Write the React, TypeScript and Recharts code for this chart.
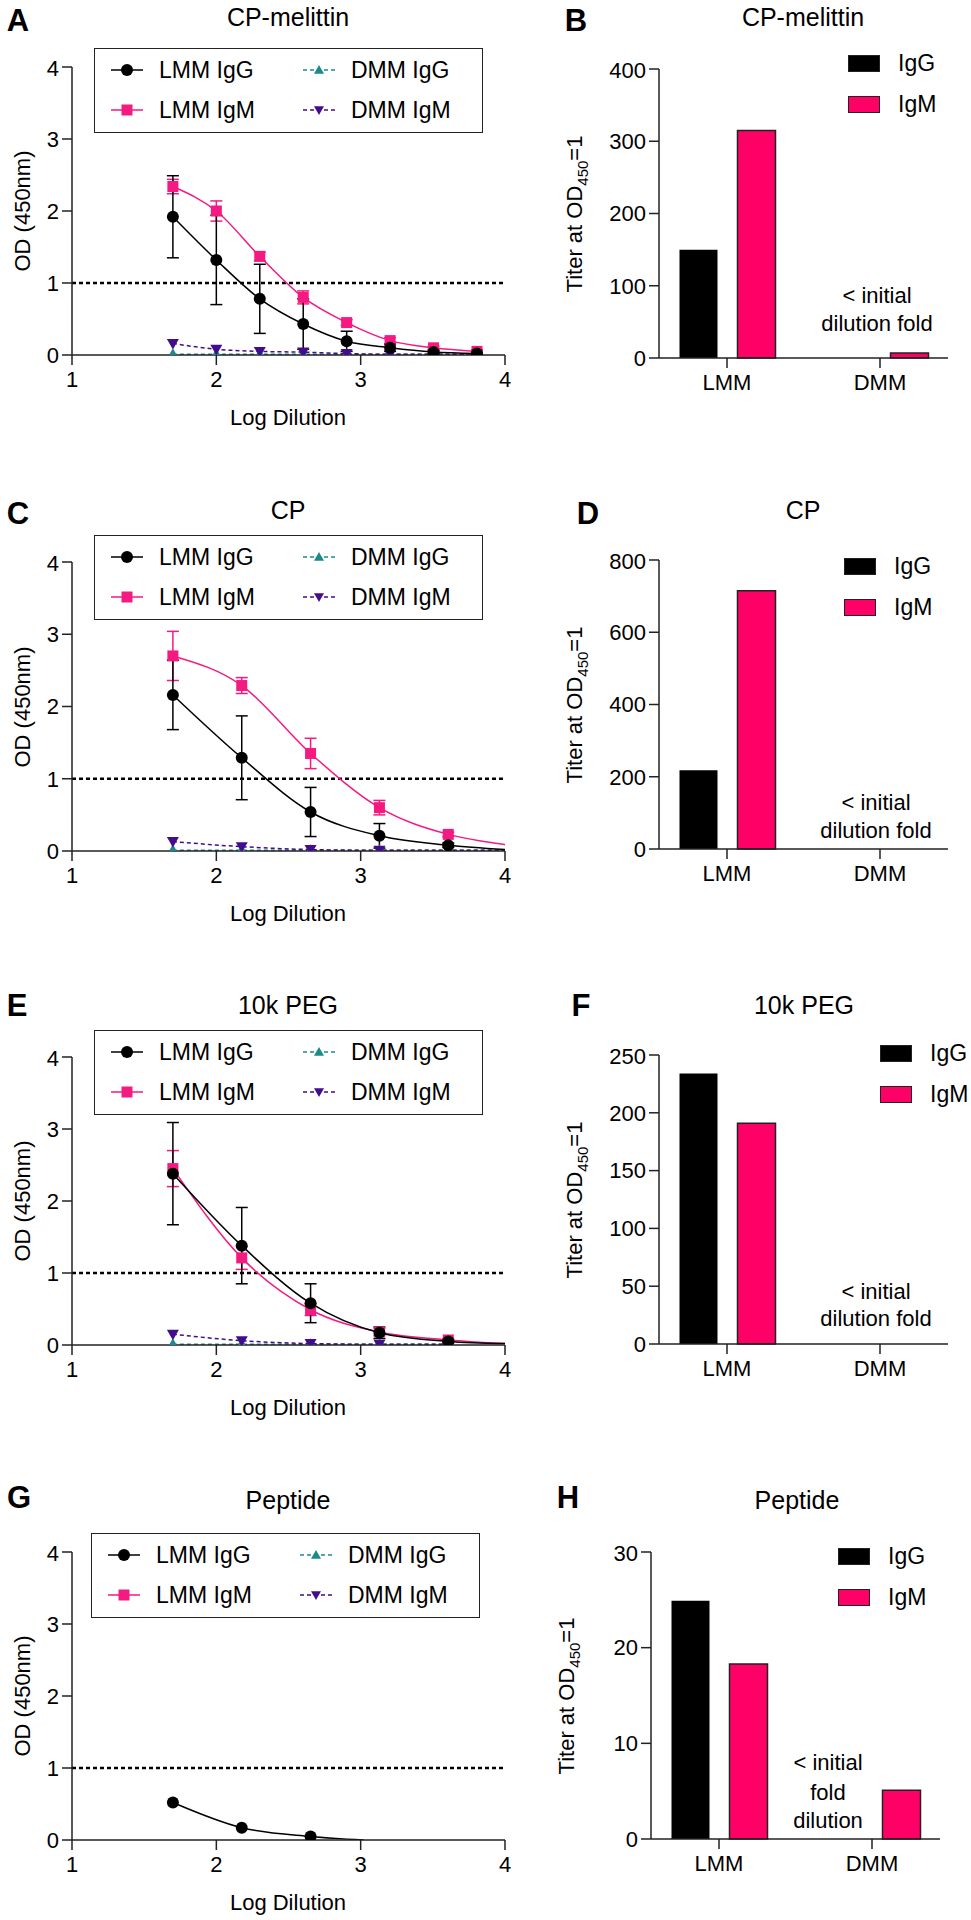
import React from 'react';
import { ComposedChart, BarChart, Line, Bar, XAxis, YAxis, ErrorBar, ReferenceLine } from 'recharts';

const FONT = '"Liberation Sans", Arial, Helvetica, sans-serif';
const AXIS = '#222';
const PINK_LINE = '#F41A82';
const PINK_BAR = '#FF0066';
const TEAL = '#1A8A8A';
const PURPLE = '#420D8C';

// log10 of the serum dilutions
const logDil2 = [1.699, 2.0, 2.301, 2.602, 2.903, 3.204, 3.505, 3.806];
const logDil3 = [1.699, 2.176, 2.653, 3.13, 3.607];

// A: CP-melittin
const cpmLmmIgG = [1.92, 1.32, 0.78, 0.43, 0.19, 0.1, 0.04, 0.02];
const cpmLmmIgGSd = [0.57, 0.62, 0.48, 0.35, 0.14, 0.05, 0.02, 0.01];
const cpmLmmIgM = [2.34, 2.0, 1.37, 0.8, 0.45, 0.2, 0.1, 0.05];
const cpmLmmIgMSd = [0.1, 0.14, 0.06, 0.09, 0.04, 0.04, 0.02, 0.02];
const cpmDmmIgG = [0.01, 0.01, 0.01, 0.01, 0.01, 0.01, 0.01, 0.01];
const cpmDmmIgM = [0.16, 0.08, 0.05, 0.04, 0.02, 0.01, 0.01, 0.01];

// C: CP
const cpLmmIgG = [2.16, 1.29, 0.54, 0.21, 0.08];
const cpLmmIgGSd = [0.48, 0.58, 0.34, 0.17, 0.03];
const cpLmmIgM = [2.7, 2.29, 1.35, 0.6, 0.23];
const cpLmmIgMSd = [0.34, 0.11, 0.21, 0.1, 0.03];
const cpDmmIgG = [0.01, 0.01, 0.01, 0.01, 0.01];
const cpDmmIgM = [0.13, 0.06, 0.02, 0.01, 0.01];
// where the fitted curves end (x = 4)
const cpFitEnd = { lmmIgG: 0.02, lmmIgM: 0.09, dmmIgG: 0.01, dmmIgM: 0.01 };

// E: 10k PEG
const pegLmmIgG = [2.38, 1.38, 0.58, 0.17, 0.05];
const pegLmmIgGSd = [0.71, 0.53, 0.27, 0.08, 0.02];
const pegLmmIgM = [2.45, 1.21, 0.49, 0.18, 0.07];
const pegLmmIgMSd = [0.25, 0.16, 0.08, 0.05, 0.02];
const pegDmmIgG = [0.01, 0.01, 0.01, 0.01, 0.01];
const pegDmmIgM = [0.15, 0.06, 0.02, 0.01, 0.01];
const pegFitEnd = { lmmIgG: 0.02, lmmIgM: 0.02 };

// G: Peptide
const pepLmmIgG = [0.52, 0.17, 0.05];
const pepFitEndX = 3.02;
const pepFitEnd = 0.0;

// titers at OD450 = 1 (B, D, F, H)
const groups = ['LMM', 'DMM'];
const cpmTiterIgG = [150, 0];
const cpmTiterIgM = [315, 7];
const cpTiterIgG = [218, 0];
const cpTiterIgM = [715, 0];
const pegTiterIgG = [234, 0];
const pegTiterIgM = [191, 0];
const pepTiterIgG = [24.9, 0];
const pepTiterIgM = [18.3, 5.1];

const odTicks = [0, 1, 2, 3, 4];
const logTicks = [1, 2, 3, 4];

type Shape = 'circle' | 'square' | 'up' | 'down';
type Series = { name: string; xs: number[]; ys: number[]; sd?: number[]; color: string; shape: Shape; dashed?: boolean; end?: [number, number] };

function Marker({ shape, cx, cy, color, s = 6 }: { shape: Shape; cx: number; cy: number; color: string; s?: number }) {
  if (shape === 'circle') return <circle cx={cx} cy={cy} r={s} fill={color} />;
  if (shape === 'square') return <rect x={cx - s + 0.5} y={cy - s + 0.5} width={2 * s - 1} height={2 * s - 1} fill={color} />;
  if (shape === 'up') return <polygon points={`${cx},${cy - s} ${cx + s},${cy + s * 0.75} ${cx - s},${cy + s * 0.75}`} fill={color} />;
  return <polygon points={`${cx},${cy + s} ${cx + s},${cy - s * 0.75} ${cx - s},${cy - s * 0.75}`} fill={color} />;
}

const legendItems: { name: string; color: string; shape: Shape; dashed?: boolean }[] = [
  { name: 'LMM IgG', color: '#000', shape: 'circle' },
  { name: 'DMM IgG', color: TEAL, shape: 'up', dashed: true },
  { name: 'LMM IgM', color: PINK_LINE, shape: 'square' },
  { name: 'DMM IgM', color: PURPLE, shape: 'down', dashed: true },
];

const tickStyle = { fill: '#000', fontSize: 22, fontFamily: FONT };

function Txt({ x, y, size, bold, children, rotate }: { x: number; y: number; size: number; bold?: boolean; children: React.ReactNode; rotate?: boolean }) {
  return (
    <div
      style={{
        position: 'absolute', left: x, top: y, fontFamily: FONT, fontSize: size, fontWeight: bold ? 700 : 400,
        whiteSpace: 'nowrap', lineHeight: 1, color: '#000',
        transform: `translate(-50%, -50%)${rotate ? ' rotate(-90deg)' : ''}`,
      }}
    >
      {children}
    </div>
  );
}

function LineLegend({ left, top }: { left: number; top: number }) {
  return (
    <div style={{ position: 'absolute', left, top, width: 389, height: 85, border: `1.5px solid ${AXIS}`, boxSizing: 'border-box', background: '#fff' }}>
      {legendItems.map((it, i) => {
        const col = i % 2;
        const row = Math.floor(i / 2);
        return (
          <div key={it.name} style={{ position: 'absolute', left: col === 0 ? 15 : 207, top: row === 0 ? 11 : 51, height: 20, display: 'flex', alignItems: 'center' }}>
            <svg width={34} height={20} style={{ display: 'block' }}>
              <line x1={1} y1={10} x2={33} y2={10} stroke={it.color} strokeWidth={1.5} strokeDasharray={it.dashed ? '4 3' : undefined} />
              <Marker shape={it.shape} cx={17} cy={10} color={it.color} s={it.dashed ? 5 : 6} />
            </svg>
            <span style={{ marginLeft: 15, fontFamily: FONT, fontSize: 23, lineHeight: 1 }}>{it.name}</span>
          </div>
        );
      })}
    </div>
  );
}

function LinePanel({ plotTop, plotBottom, legendLeft, legendTop, series }: { plotTop: number; plotBottom: number; legendLeft: number; legendTop: number; series: Series[] }) {
  const top = plotTop - 12;
  const W = 520;
  const H = plotBottom - top + 50;
  return (
    <>
      <div style={{ position: 'absolute', left: 0, top, width: W, height: H }}>
        <ComposedChart width={W} height={H} margin={{ top: 12, left: 12, right: 15, bottom: H - (plotBottom - top) - 30 }}>
          <XAxis type="number" dataKey="x" domain={[1, 4]} ticks={logTicks} allowDataOverflow height={30} tickSize={10} tickMargin={6}
            stroke={AXIS} strokeWidth={1.5} tick={tickStyle} />
          <YAxis type="number" domain={[0, 4]} ticks={odTicks} allowDataOverflow width={60} tickSize={10} tickMargin={3}
            stroke={AXIS} strokeWidth={1.5} tick={tickStyle} />
          <ReferenceLine y={1} stroke="#000" strokeWidth={2.5} strokeDasharray="4 3" />
          {series.map((s) => {
            const data: { x: number; y: number; sd?: number; end?: boolean }[] = s.ys.map((y, i) => ({ x: s.xs[i], y, sd: s.sd ? s.sd[i] : 0 }));
            if (s.end) data.push({ x: s.end[0], y: s.end[1], end: true });
            return (
              <Line
                key={s.name}
                data={data}
                dataKey="y"
                type="monotone"
                stroke={s.color}
                strokeWidth={1.5}
                strokeDasharray={s.dashed ? '4 3' : undefined}
                dot={(p: any) =>
                  p.payload && p.payload.end ? (
                    <g key={`${s.name}-${p.index}`} />
                  ) : (
                    <Marker key={`${s.name}-${p.index}`} shape={s.shape} cx={p.cx} cy={p.cy} color={s.color} />
                  )
                }
                activeDot={false}
                isAnimationActive={false}
              >
                {s.sd && <ErrorBar dataKey="sd" direction="y" width={6} stroke={s.color} strokeWidth={1.5} />}
              </Line>
            );
          })}
        </ComposedChart>
      </div>
      <LineLegend left={legendLeft} top={legendTop} />
      <Txt x={23} y={(plotTop + plotBottom) / 2} size={22} rotate>OD (450nm)</Txt>
      <Txt x={288} y={plotBottom + 63} size={22}>Log Dilution</Txt>
    </>
  );
}

function BarLegend({ left, top }: { left: number; top: number }) {
  const items = [
    { name: 'IgG', fill: '#000' },
    { name: 'IgM', fill: PINK_BAR },
  ];
  return (
    <div style={{ position: 'absolute', left, top }}>
      {items.map((it, i) => (
        <div key={it.name} style={{ position: 'absolute', left: 0, top: i * 41, display: 'flex', alignItems: 'center', height: 17 }}>
          <div style={{ width: 32, height: 17, background: it.fill, border: '1.5px solid #222', boxSizing: 'border-box' }} />
          <span style={{ marginLeft: 18, fontFamily: FONT, fontSize: 23, lineHeight: 1 }}>{it.name}</span>
        </div>
      ))}
    </div>
  );
}

function BarPanel({ plotLeft, plotRight, plotTop, plotBottom, igg, igm, max, ticks }: { plotLeft: number; plotRight: number; plotTop: number; plotBottom: number; igg: number[]; igm: number[]; max: number; ticks: number[] }) {
  const left = 550;
  const top = plotTop - 12;
  const W = 420;
  const H = plotBottom - top + 50;
  const data = groups.map((g, i) => ({ group: g, igg: igg[i], igm: igm[i] }));
  return (
    <>
      <div style={{ position: 'absolute', left, top, width: W, height: H }}>
        <BarChart width={W} height={H} data={data} barGap={20}
          margin={{ top: 12, left: plotLeft - left - 60, right: left + W - plotRight, bottom: H - (plotBottom - top) - 30 }}>
          <XAxis dataKey="group" type="category" height={30} tickSize={10} tickMargin={6} padding={{ left: -8.5, right: -8.5 }}
            stroke={AXIS} strokeWidth={1.5} tick={tickStyle} />
          <YAxis type="number" domain={[0, max]} ticks={ticks} width={60} tickSize={10} tickMargin={3}
            stroke={AXIS} strokeWidth={1.5} tick={tickStyle} />
          <Bar dataKey="igg" fill="#000" barSize={38} isAnimationActive={false} />
          <Bar dataKey="igm" fill={PINK_BAR} stroke="#222" strokeWidth={1.5} barSize={38} isAnimationActive={false} />
        </BarChart>
      </div>
      <Txt x={plotLeft - 82} y={(plotTop + plotBottom) / 2} size={22} rotate>
        Titer at OD<sub style={{ fontSize: 15 }}>450</sub>=1
      </Txt>
    </>
  );
}

export default function App() {
  const seriesA: Series[] = [
    { name: 'DMM IgG', xs: logDil2, ys: cpmDmmIgG, color: TEAL, shape: 'up', dashed: true },
    { name: 'DMM IgM', xs: logDil2, ys: cpmDmmIgM, color: PURPLE, shape: 'down', dashed: true },
    { name: 'LMM IgM', xs: logDil2, ys: cpmLmmIgM, sd: cpmLmmIgMSd, color: PINK_LINE, shape: 'square' },
    { name: 'LMM IgG', xs: logDil2, ys: cpmLmmIgG, sd: cpmLmmIgGSd, color: '#000', shape: 'circle' },
  ];
  const seriesC: Series[] = [
    { name: 'DMM IgG', xs: logDil3, ys: cpDmmIgG, color: TEAL, shape: 'up', dashed: true, end: [4, cpFitEnd.dmmIgG] },
    { name: 'DMM IgM', xs: logDil3, ys: cpDmmIgM, color: PURPLE, shape: 'down', dashed: true, end: [4, cpFitEnd.dmmIgM] },
    { name: 'LMM IgM', xs: logDil3, ys: cpLmmIgM, sd: cpLmmIgMSd, color: PINK_LINE, shape: 'square', end: [4, cpFitEnd.lmmIgM] },
    { name: 'LMM IgG', xs: logDil3, ys: cpLmmIgG, sd: cpLmmIgGSd, color: '#000', shape: 'circle', end: [4, cpFitEnd.lmmIgG] },
  ];
  const seriesE: Series[] = [
    { name: 'DMM IgG', xs: logDil3, ys: pegDmmIgG, color: TEAL, shape: 'up', dashed: true },
    { name: 'DMM IgM', xs: logDil3, ys: pegDmmIgM, color: PURPLE, shape: 'down', dashed: true },
    { name: 'LMM IgM', xs: logDil3, ys: pegLmmIgM, sd: pegLmmIgMSd, color: PINK_LINE, shape: 'square', end: [4, pegFitEnd.lmmIgM] },
    { name: 'LMM IgG', xs: logDil3, ys: pegLmmIgG, sd: pegLmmIgGSd, color: '#000', shape: 'circle', end: [4, pegFitEnd.lmmIgG] },
  ];
  const seriesG: Series[] = [
    { name: 'LMM IgG', xs: logDil3.slice(0, 3), ys: pepLmmIgG, color: '#000', shape: 'circle', end: [pepFitEndX, pepFitEnd] },
  ];

  return (
    <div style={{ position: 'absolute', left: 0, top: 0, width: 971, height: 1920, background: '#fff', overflow: 'hidden' }}>
      {/* row 1 */}
      <Txt x={18} y={20} size={31} bold>A</Txt>
      <Txt x={288} y={17} size={25}>CP-melittin</Txt>
      <LinePanel plotTop={67} plotBottom={355} legendLeft={94} legendTop={48} series={seriesA} />
      <Txt x={576} y={20} size={31} bold>B</Txt>
      <Txt x={803} y={17} size={25}>CP-melittin</Txt>
      <BarPanel plotLeft={659} plotRight={948} plotTop={69} plotBottom={358} igg={cpmTiterIgG} igm={cpmTiterIgM} max={400} ticks={[0, 100, 200, 300, 400]} />
      <BarLegend left={848} top={55} />
      <Txt x={877} y={296} size={22}>&lt; initial</Txt>
      <Txt x={877} y={324} size={22}>dilution fold</Txt>

      {/* row 2 */}
      <Txt x={18} y={513} size={31} bold>C</Txt>
      <Txt x={288} y={510} size={25}>CP</Txt>
      <LinePanel plotTop={562} plotBottom={851} legendLeft={94} legendTop={535} series={seriesC} />
      <Txt x={588} y={513} size={31} bold>D</Txt>
      <Txt x={803} y={510} size={25}>CP</Txt>
      <BarPanel plotLeft={659} plotRight={948} plotTop={560} plotBottom={849} igg={cpTiterIgG} igm={cpTiterIgM} max={800} ticks={[0, 200, 400, 600, 800]} />
      <BarLegend left={844} top={558} />
      <Txt x={876} y={803} size={22}>&lt; initial</Txt>
      <Txt x={876} y={831} size={22}>dilution fold</Txt>

      {/* row 3 */}
      <Txt x={17} y={1005} size={31} bold>E</Txt>
      <Txt x={288} y={1005} size={25}>10k PEG</Txt>
      <LinePanel plotTop={1057} plotBottom={1345} legendLeft={94} legendTop={1030} series={seriesE} />
      <Txt x={581} y={1005} size={31} bold>F</Txt>
      <Txt x={804} y={1005} size={25}>10k PEG</Txt>
      <BarPanel plotLeft={659} plotRight={948} plotTop={1055} plotBottom={1344} igg={pegTiterIgG} igm={pegTiterIgM} max={250} ticks={[0, 50, 100, 150, 200, 250]} />
      <BarLegend left={880} top={1045} />
      <Txt x={876} y={1292} size={22}>&lt; initial</Txt>
      <Txt x={876} y={1319} size={22}>dilution fold</Txt>

      {/* row 4 */}
      <Txt x={19} y={1497} size={31} bold>G</Txt>
      <Txt x={288} y={1500} size={25}>Peptide</Txt>
      <LinePanel plotTop={1552} plotBottom={1840} legendLeft={91} legendTop={1533} series={seriesG} />
      <Txt x={568} y={1497} size={31} bold>H</Txt>
      <Txt x={797} y={1500} size={25}>Peptide</Txt>
      <BarPanel plotLeft={651} plotRight={940} plotTop={1552} plotBottom={1839} igg={pepTiterIgG} igm={pepTiterIgM} max={30} ticks={[0, 10, 20, 30]} />
      <BarLegend left={838} top={1548} />
      <Txt x={828} y={1763} size={22}>&lt; initial</Txt>
      <Txt x={828} y={1793} size={22}>fold</Txt>
      <Txt x={828} y={1821} size={22}>dilution</Txt>
    </div>
  );
}
